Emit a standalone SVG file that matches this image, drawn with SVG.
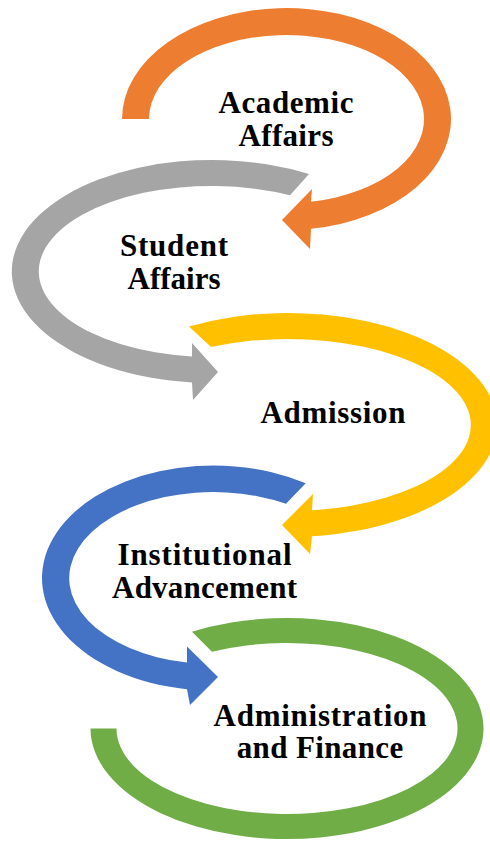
<svg xmlns="http://www.w3.org/2000/svg" width="490" height="842" viewBox="0 0 490 842">
  <style>
    .label { font-family: "Liberation Serif", "Times New Roman", serif; font-weight: bold; font-size: 31px; fill: #000; text-anchor: middle; }
    .orange { fill: #ED7D31; }
    .gray { fill: #A5A5A5; }
    .yellow { fill: #FFC000; }
    .blue { fill: #4472C4; }
    .green { fill: #70AD47; }
  </style>
  <rect width="490" height="842" fill="#fff"/>

  <!-- Each unit: an elliptical band that ends in an arrowhead, with its label inside -->
  <g id="academic-affairs">
    <path class="orange" d="M122,119 A164.5,111 0 1 1 311,228.8 L310,249 L282,220 L312,189 L311,201.7 A137.5,84 0 1 0 149,119 Z"/>
    <text class="label" x="286" y="113" textLength="135" lengthAdjust="spacing">Academic</text>
    <text class="label" x="286" y="145.5" textLength="95" lengthAdjust="spacing">Affairs</text>
  </g>

  <g id="student-affairs">
    <path class="gray" d="M309,174 A200,111.5 0 1 0 192,382.4 L193,400 L218,372 L192,343 L192,356.4 A173,85.5 0 1 1 290,195.2 Z"/>
    <text class="label" x="174" y="256" textLength="108" lengthAdjust="spacing">Student</text>
    <text class="label" x="174" y="288.5" textLength="93" lengthAdjust="spacing">Affairs</text>
  </g>

  <g id="admission">
    <path class="yellow" d="M189,326.4 A209,112 0 1 1 312,536.3 L310,554 L282,525 L313,494 L312,510.3 A183,86 0 1 0 211,347 Z"/>
    <text class="label" x="333" y="422.5" textLength="145" lengthAdjust="spacing">Admission</text>
  </g>

  <g id="institutional-advancement">
    <path class="blue" d="M305.7,483.3 A171.3,112.5 0 1 0 187,689.2 L190,705 L218,677 L187,646.5 L187,662.6 A144.3,86 0 1 1 286,503.7 Z"/>
    <text class="label" x="204.5" y="565" textLength="174" lengthAdjust="spacing">Institutional</text>
    <text class="label" x="204.5" y="597.5" textLength="185" lengthAdjust="spacing">Advancement</text>
  </g>

  <g id="administration-finance">
    <path class="green" d="M192,631.8 A196.5,110.5 0 1 1 90.5,728.5 L116.5,728.5 A170.5,85.5 0 1 0 212,651.7 Z"/>
    <text class="label" x="320" y="725.5" textLength="213" lengthAdjust="spacing">Administration</text>
    <text class="label" x="320" y="758" textLength="166.5" lengthAdjust="spacing">and Finance</text>
  </g>
</svg>
